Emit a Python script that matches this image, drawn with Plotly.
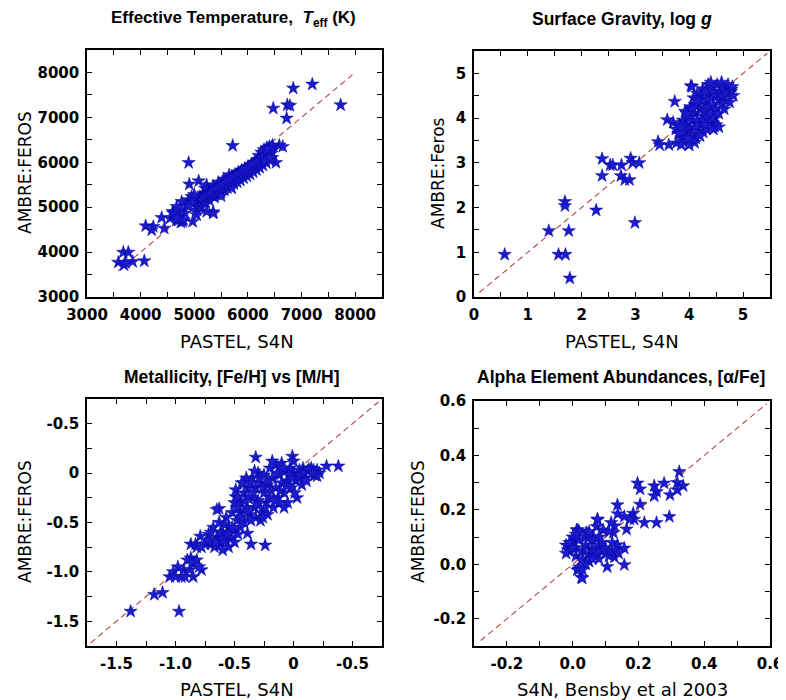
import plotly.graph_objects as go

# ---------------- Panel 1: Effective temperature ----------------
teff_x = [3584, 3677, 3770, 3690, 3851, 3720, 4068, 4094, 4236, 4206, 4441, 4392, 4597,
          4895, 4907, 5082, 5106, 5354, 4970, 4784, 5716, 6473, 6734, 6784, 6845, 7200,
          7729, 6722, 6585, 6523, 6650,
          4547, 4609, 4671, 4734, 4765, 4827, 4858, 4889, 4951, 5013, 4765, 4671, 5045,
          5106, 5168, 5137, 5200, 5231, 5050, 5231, 5354, 5045, 4700, 4750, 4800, 4680,
          5120, 5140, 5160, 5180, 5200, 5220, 5240, 5260, 5280, 5300, 5320, 5340, 5360,
          5380, 5400, 5420, 5440, 5460, 5480, 5500, 5520, 5540, 5560, 5580, 5600, 5620,
          5640, 5660, 5680, 5700, 5720, 5740, 5760, 5780, 5800, 5820, 5840, 5860, 5880,
          5900, 5920, 5940, 5960, 5980, 6000, 6020, 6040, 6060, 6080, 6100, 6120, 6140,
          6160, 6180, 6200, 6220, 6240, 6260, 6280, 6300, 6320, 6340, 6360, 6380, 6400,
          6420, 6440, 6450, 6400, 6350, 6300, 6460, 6250, 6200, 5650, 5550, 5450, 5350,
          5250, 5500, 5700, 4950, 4900, 5000,
          5150, 5190, 5230, 5270, 5310, 5350, 5390, 5430, 5470, 5510, 5550, 5590, 5630,
          5670, 5710, 5750, 5790, 5830, 5870, 5910, 5950, 5990, 6030, 6070, 6110, 6150,
          6190, 6230, 6270, 6310, 6350, 6390, 6430, 6330, 6410, 6440, 6360]
teff_y = [3772, 3995, 3995, 3713, 3786, 3760, 3802, 4581, 4566, 4492, 4529, 4766, 4900,
          5991, 5510, 5583, 4989, 4893, 4679, 4679, 6370, 7202, 7276, 7261, 7648, 7737,
          7276, 6980, 6378, 5991, 6350,
          4752, 4864, 4715, 4789, 4937, 4864, 5049, 5160, 5234, 5160, 5123, 5012, 5012,
          5234, 5309, 5160, 5421, 5494, 4937, 4900, 4864, 4826, 4700, 4660, 4720, 4760,
          5050, 5200, 5120, 5260, 5180, 5080, 5300, 5220, 5150, 5340, 5260, 5400, 5300,
          5220, 5450, 5350, 5280, 5500, 5400, 5330, 5560, 5460, 5380, 5600, 5500, 5430,
          5650, 5560, 5470, 5690, 5600, 5520, 5730, 5650, 5560, 5780, 5700, 5600, 5820,
          5740, 5650, 5860, 5780, 5690, 5900, 5820, 5730, 5950, 5870, 5780, 6000, 5920,
          5830, 6060, 5970, 5880, 6120, 6020, 5930, 6180, 6080, 5990, 6250, 6150, 6050,
          6300, 6200, 6100, 6350, 6320, 6280, 6380, 6220, 6150, 5720, 5620, 5550, 5470,
          5380, 5250, 5420, 5100, 5020, 5280,
          5150, 5220, 5250, 5300, 5290, 5350, 5380, 5420, 5450, 5480, 5510, 5550, 5580,
          5610, 5650, 5680, 5710, 5740, 5770, 5800, 5830, 5860, 5890, 5920, 5950, 5980,
          6010, 6050, 6090, 6130, 6170, 6210, 6250, 6040, 6100, 6330, 6300]

# ---------------- Panel 2: Surface gravity ----------------
logg_x = [0.57, 1.39, 1.57, 1.70, 1.69, 1.69, 1.76, 1.78, 2.27, 2.38, 2.38, 2.53, 2.58,
          2.74, 2.73, 2.80, 2.89, 2.91, 2.95, 3.07, 2.99, 3.42, 3.45, 3.62, 3.76, 3.99,
          3.73, 3.59, 4.03, 4.47, 4.26, 4.78,
          3.70, 3.75, 3.80, 3.82, 3.85, 3.88, 3.90, 3.92, 3.95, 3.95, 3.98, 4.00, 4.00,
          4.02, 4.05, 4.05, 4.08, 4.10, 4.10, 4.12, 4.15, 4.15, 4.18, 4.20, 4.20, 4.22,
          4.25, 4.25, 4.28, 4.30, 4.30, 4.32, 4.35, 4.35, 4.38, 4.40, 4.40, 4.40, 4.42,
          4.45, 4.45, 4.48, 4.50, 4.50, 4.52, 4.55, 4.55, 4.58, 4.60, 4.60, 4.62, 4.65,
          4.65, 4.68, 4.70, 4.72, 4.75, 4.78, 4.80, 4.82, 4.35, 4.25, 4.15, 4.10, 4.05,
          4.00, 3.95, 3.88, 3.85, 4.30, 4.50, 4.45, 4.55, 4.20, 4.10, 4.00, 3.85,
          4.05, 4.40, 4.60, 4.15, 3.98, 4.30]
logg_y = [0.95, 1.48, 0.95, 0.95, 2.13, 2.04, 1.48, 0.42, 1.94, 3.09, 2.71, 2.95, 2.95,
          2.95, 2.71, 2.62, 2.62, 3.10, 3.00, 3.00, 1.66, 3.47, 3.40, 3.40, 3.44, 3.40,
          4.37, 3.96, 4.72, 3.81, 3.68, 4.64,
          3.90, 3.75, 3.65, 3.85, 3.55, 3.95, 3.70, 4.15, 3.60, 3.85, 4.05, 3.50, 3.75,
          4.25, 3.95, 3.65, 4.45, 3.80, 4.10, 3.55, 4.30, 3.95, 3.70, 4.20, 4.50, 3.85,
          4.05, 4.65, 3.95, 4.35, 4.15, 3.75, 4.55, 4.00, 4.25, 4.75, 4.45, 3.90, 4.10,
          4.60, 4.30, 4.00, 4.50, 4.20, 4.75, 4.40, 4.10, 4.60, 4.30, 4.70, 4.50, 4.20,
          4.65, 4.40, 4.55, 4.75, 4.35, 4.60, 4.70, 4.50, 4.75, 4.40, 4.55, 4.30, 4.20,
          4.00, 4.10, 3.70, 3.80, 4.60, 3.85, 3.75, 3.80, 3.60, 3.45, 3.40, 3.40,
          4.70, 4.80, 4.80, 4.40, 3.55, 3.85]

# ---------------- Panel 3: Metallicity ----------------
feh_x = [-1.38, -1.18, -1.11, -0.97, -0.78, -0.87, -0.87, -0.79, -0.36, -0.24, -0.39,
         -0.63, -0.49, -0.49, -0.32, -0.01, 0.28, 0.38, 0.17, 0.18,
         -1.05, -1.02, -1.00, -0.98, -0.95, -0.93, -0.92, -0.90, -0.88, -0.85, -0.85,
         -0.82, -0.80, -0.83, -0.82,
         -0.72, -0.70, -0.68, -0.67, -0.65, -0.65, -0.63, -0.62, -0.60, -0.60, -0.58,
         -0.57, -0.55, -0.55, -0.53, -0.52, -0.50, -0.50, -0.48, -0.47, -0.45, -0.45,
         -0.42, -0.70, -0.75, -0.78, -0.62, -0.58,
         -0.45, -0.42, -0.40, -0.40, -0.38, -0.37, -0.35, -0.35, -0.33, -0.32, -0.30,
         -0.30, -0.28, -0.27, -0.25, -0.25, -0.23, -0.22, -0.20, -0.20, -0.18, -0.17,
         -0.15, -0.15, -0.13, -0.12, -0.10, -0.10, -0.08, -0.07, -0.05, -0.05, -0.03,
         -0.02, 0.00, 0.00, 0.02, 0.03, 0.05, 0.07, 0.08, 0.10, 0.12, 0.15, 0.18, 0.20,
         0.22, 0.20, -0.32, -0.28, -0.22, -0.12, -0.08, -0.18, -0.38, -0.42, -0.47, -0.50,
         -0.44, -0.41, -0.39, -0.36, -0.34, -0.31, -0.29, -0.26, -0.24, -0.21, -0.19,
         -0.16, -0.14, -0.11, -0.09, -0.06, -0.04, -0.01, 0.01, 0.04, 0.06, 0.09, 0.11,
         0.13, 0.16, -0.60, -0.56, -0.52, -0.66, -0.72, -0.48, -0.36, -0.44, -0.33, -0.26]
feh_y = [-1.40, -1.23, -1.21, -1.40, -0.98, -0.86, -0.72, -0.64, -0.72, -0.73, -0.61,
         -0.36, -0.17, -0.24, 0.16, 0.17, 0.07, 0.07, 0.03, -0.02,
         -1.05, -1.00, -1.05, -0.95, -1.05, -0.98, -1.05, -0.88, -0.98, -0.92, -1.05,
         -0.88, -0.95, -0.72, -0.75,
         -0.62, -0.72, -0.55, -0.75, -0.65, -0.37, -0.50, -0.72, -0.60, -0.78, -0.68,
         -0.45, -0.55, -0.75, -0.65, -0.40, -0.58, -0.70, -0.48, -0.62, -0.40, -0.55,
         -0.50, -0.60, -0.72, -0.75, -0.60, -0.52,
         -0.30, -0.20, -0.35, -0.05, -0.15, -0.42, -0.25, -0.05, -0.35, -0.15, 0.00,
         -0.28, -0.10, -0.40, -0.20, -0.02, -0.30, -0.12, 0.05, -0.25, -0.05, -0.35,
         -0.15, 0.08, -0.25, -0.02, -0.10, 0.10, -0.20, 0.02, -0.08, -0.30, 0.05,
         -0.15, 0.00, 0.12, -0.08, -0.25, 0.03, -0.12, 0.05, -0.05, 0.02, 0.05, -0.02,
         0.03, 0.00, -0.03, -0.45, -0.48, -0.42, -0.30, -0.35, 0.12, -0.25, -0.10, -0.25,
         -0.30,
         -0.45, -0.28, -0.38, -0.10, -0.20, -0.32, -0.05, -0.15, -0.35, -0.08, -0.18,
         -0.28, 0.00, -0.18, 0.05, -0.13, -0.02, -0.05, -0.20, -0.05, -0.02, 0.00, -0.08,
         0.04, 0.00, -0.68, -0.62, -0.55, -0.70, -0.68, -0.35, -0.48, -0.10, 0.02, -0.45]

# ---------------- Panel 4: Alpha elements ----------------
alpha_x = [0.324, 0.197, 0.205, 0.248, 0.255, 0.248, 0.278, 0.318, 0.336, 0.318, 0.296,
           0.294, 0.255, 0.218, 0.205, 0.184, 0.187, 0.174, 0.157, 0.136, 0.137, 0.164,
           0.127, 0.117, 0.124, 0.157, 0.157, 0.105, 0.127, 0.136, 0.076, 0.073, 0.027,
           0.019, 0.012, 0.043, 0.063, 0.093, -0.014, 0.014, 0.029, 0.016, 0.041, 0.075,
           -0.02, -0.01, 0.00, 0.00, 0.01, 0.01, 0.02, 0.02, 0.03, 0.03, 0.04, 0.04, 0.05,
           0.05, 0.06, 0.06, 0.07, 0.07, 0.08, 0.08, 0.09, 0.09, 0.10, 0.10, 0.11, 0.12,
           0.12, 0.13, 0.14, 0.02, 0.04, 0.06, 0.03, -0.01, 0.01, 0.05, 0.08, 0.11, -0.02,
           0.00]
alpha_y = [0.340, 0.298, 0.276, 0.288, 0.267, 0.251, 0.298, 0.300, 0.288, 0.273, 0.255,
           0.175, 0.153, 0.153, 0.220, 0.187, 0.165, 0.165, 0.175, 0.218, 0.185, 0.129,
           0.141, 0.153, 0.116, 0.059, -0.002, -0.009, 0.026, 0.071, 0.163, 0.138, -0.048,
           -0.018, 0.126, 0.114, 0.102, 0.126, 0.053, -0.021, -0.051, 0.126, 0.116, 0.166,
           0.07, 0.05, 0.08, 0.10, 0.06, 0.03, 0.09, 0.12, 0.05, 0.02, 0.07, 0.10, 0.04,
           0.01, 0.06, 0.09, 0.03, 0.05, 0.07, 0.02, 0.05, 0.08, 0.04, 0.06, 0.03, 0.05,
           0.08, 0.05, 0.04, -0.01, 0.00, 0.02, -0.02, 0.08, 0.11, 0.12, 0.10, 0.12, 0.04,
           0.06]

# one-to-one reference line end points
teff_line = [3580, 7950]
logg_line = [0.10, 5.45]
feh_line = [-1.72, 0.72]
alpha_line = [-0.28, 0.59]

# axis ranges & tick labels
teff_range = [3000, 8500]
logg_range = [0, 5.5]
feh_range = [-1.75, 0.75]
alpha_range = [-0.3, 0.6]

teff_ticks = [3000, 4000, 5000, 6000, 7000, 8000]
teff_text = ["3000", "4000", "5000", "6000", "7000", "8000"]
logg_ticks = [0, 1, 2, 3, 4, 5]
logg_text = ["0", "1", "2", "3", "4", "5"]
feh_ticks = [-1.5, -1.0, -0.5, 0.0, 0.5]
feh_text = ["-1.5", "-1.0", "-0.5", "0", "-0.5"]
alpha_ticks = [-0.2, 0.0, 0.2, 0.4, 0.6]
alpha_text = ["-0.2", "0.0", "0.2", "0.4", "0.6"]

titles = ["Effective Temperature,\u00a0\u00a0<i>T</i><sub>eff</sub> (K)",
          "Surface Gravity, log <i>g</i>",
          "Metallicity, [Fe/H] vs [M/H]",
          "Alpha Element Abundances, [α/Fe]"]
xtitles = ["PASTEL, S4N", "PASTEL, S4N", "PASTEL, S4N", "S4N, Bensby et al 2003"]
ytitles = ["AMBRE:FEROS", "AMBRE:Feros", "AMBRE:FEROS", "AMBRE:FEROS"]

OFF = 8                      # page body margin of the browser
W, H = 786 - OFF, 700 - OFF
FONT = "Liberation Sans"
TICKFONT = "DejaVu Sans"
STAR = "#1c1ccc"
LINE = "#b84545"

panels = [
    dict(x=teff_x, y=teff_y, line=teff_line, rng=teff_range, tv=teff_ticks, tt=teff_text,
         minor=500, box=(87, 382, 50, 297)),
    dict(x=logg_x, y=logg_y, line=logg_line, rng=logg_range, tv=logg_ticks, tt=logg_text,
         minor=0.5, box=(474, 770, 51, 297)),
    dict(x=feh_x, y=feh_y, line=feh_line, rng=feh_range, tv=feh_ticks, tt=feh_text,
         minor=0.25, box=(87, 382, 399, 646)),
    dict(x=alpha_x, y=alpha_y, line=alpha_line, rng=alpha_range, tv=alpha_ticks, tt=alpha_text,
         minor=0.1, box=(474, 770, 401, 646)),
]

fig = go.Figure()
layout = dict(template="none", width=W, height=H, margin=dict(l=0, r=0, t=0, b=0, pad=0),
              paper_bgcolor="white", plot_bgcolor="white", showlegend=False,
              font=dict(family=FONT, color="black"))

for i, p in enumerate(panels):
    n = "" if i == 0 else str(i + 1)
    xa, ya = "x" + n, "y" + n
    fig.add_trace(go.Scatter(x=p["line"], y=p["line"], mode="lines", xaxis=xa, yaxis=ya,
                             line=dict(color=LINE, width=1.1, dash="6px,4px"),
                             hoverinfo="skip"))
    fig.add_trace(go.Scatter(x=p["x"], y=p["y"], mode="markers", xaxis=xa, yaxis=ya,
                             marker=dict(symbol="star", size=10, color=STAR,
                                         line=dict(color="#0000a0", width=0.5))))
    x0, x1, y0, y1 = [v - OFF for v in p["box"]]
    common = dict(range=p["rng"], tickvals=p["tv"], ticktext=p["tt"], ticks="inside",
                  ticklen=5, tickwidth=1, tickcolor="black", showline=True, linecolor="black",
                  linewidth=1.5, mirror="ticks", showgrid=False, zeroline=False,
                  automargin=False,
                  tickfont=dict(family=TICKFONT, size=15, weight="bold", color="black"),
                  minor=dict(dtick=p["minor"], tick0=p["rng"][0], ticks="inside", ticklen=5,
                             tickcolor="black", showgrid=False))
    layout["xaxis" + n] = dict(common, domain=[x0 / W, x1 / W], anchor=ya,
                               ticklabelstandoff=3)
    layout["yaxis" + n] = dict(common, domain=[1 - y1 / H, 1 - y0 / H], anchor=xa,
                               ticklabelstandoff=3)

annotations = []
title_pos = [(233, 19), (622, 19), (232, 377), (621, 377)]
title_size = [17, 17.5, 17.5, 17.5]
xt_pos = [(237, 341), (622, 341), (237, 689), (622, 689)]
yt_pos = [(25, 173), (438, 173), (25, 522), (418, 522)]
for i in range(4):
    annotations.append(dict(text="<b>" + titles[i] + "</b>", x=(title_pos[i][0] - OFF) / W,
                            y=1 - (title_pos[i][1] - OFF) / H, xref="paper", yref="paper",
                            xanchor="center", yanchor="middle",
                            showarrow=False, font=dict(size=title_size[i], family=FONT)))
    annotations.append(dict(text=xtitles[i], x=(xt_pos[i][0] - OFF) / W,
                            y=1 - (xt_pos[i][1] - OFF) / H,
                            xref="paper", yref="paper", showarrow=False,
                            xanchor="center", yanchor="middle",
                            font=dict(size=18, family=TICKFONT)))
    annotations.append(dict(text=ytitles[i], x=(yt_pos[i][0] - OFF) / W,
                            y=1 - (yt_pos[i][1] - OFF) / H,
                            xref="paper", yref="paper", showarrow=False, textangle=-90,
                            xanchor="center", yanchor="middle",
                            font=dict(size=17, family=TICKFONT)))
layout["annotations"] = annotations
fig.update_layout(**layout)
fig.write_html("out.html")
